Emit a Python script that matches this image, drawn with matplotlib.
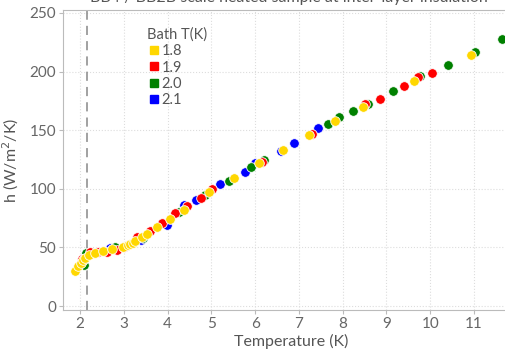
import matplotlib
matplotlib.use("Agg")
import matplotlib.pyplot as plt
from matplotlib.lines import Line2D

plt.rcParams['font.family'] = ['Lato', 'DejaVu Sans']

# bath temperature series (K)
bath_labels = ["1.8", "1.9", "2.0", "2.1"]
bath_colors = ["#FFD700", "#FF0000", "#008000", "#0000FF"]

t_18 = [1.88, 1.96, 2.02, 2.06, 2.11, 2.21, 2.34, 2.52, 2.74, 2.99, 3.09, 3.14, 3.20, 3.26,
        3.41, 3.52, 3.77, 4.05, 4.37, 4.95, 5.52, 6.09, 6.64, 7.24, 7.82, 8.47, 9.64, 10.92]
h_18 = [30.1, 34.1, 36.9, 39.2, 41.2, 43.5, 45.5, 47.2, 48.4, 50.3, 51.8, 52.9, 54.0, 55.4,
        58.6, 61.4, 67.6, 74.5, 81.9, 97.0, 109.5, 121.7, 133.0, 146.2, 158.1, 169.5, 192.2, 213.8]

t_19 = [2.05, 2.23, 2.40, 2.61, 2.84, 3.00, 3.31, 3.60, 3.88, 4.17, 4.45, 4.76, 5.02, 6.16,
        7.29, 8.52, 8.85, 9.41, 9.73, 10.04]
h_19 = [40.0, 46.0, 46.5, 46.3, 47.8, 50.0, 59.1, 64.2, 71.1, 79.1, 85.6, 92.0, 99.5, 122.8,
        147.0, 172.3, 176.6, 187.9, 195.1, 199.0]

t_20 = [2.10, 2.13, 2.80, 3.10, 3.45, 4.26, 4.85, 5.40, 5.91, 6.21, 7.66, 7.92, 8.23, 8.58,
        9.15, 9.76, 10.41, 11.03, 11.65]
h_20 = [35.0, 45.0, 50.6, 52.0, 58.0, 80.5, 94.8, 106.6, 118.3, 124.3, 155.0, 161.0, 166.1,
        172.3, 183.7, 196.2, 205.6, 216.7, 227.5]

t_21 = [2.68, 3.05, 3.39, 3.98, 4.37, 4.66, 5.20, 5.76, 6.00, 6.58, 6.89, 7.44]
h_21 = [49.2, 51.0, 56.3, 69.1, 86.4, 90.4, 104.1, 114.6, 122.3, 132.5, 139.3, 151.8]

lambda_point = 2.17

fig = plt.figure(figsize=(5.06, 3.5), dpi=100)
ax = fig.add_axes([63 / 506, 40 / 350, 457 / 506, 300 / 350])

series = [(t_21, h_21, bath_colors[3]), (t_20, h_20, bath_colors[2]),
          (t_19, h_19, bath_colors[1]), (t_18, h_18, bath_colors[0])]
for t, h, c in series:
    ax.scatter(t, h, s=48, color=c, edgecolors="white", linewidths=0.6, zorder=3)

ax.axvline(lambda_point, color="#888888", linestyle=(0, (6, 4)), linewidth=1.1, zorder=2)

ax.set_xlim(1.612, 12.05)
ax.set_ylim(-3.4, 252.5)
ax.set_xticks(range(2, 12))
ax.set_yticks([0, 50, 100, 150, 200, 250])
ax.grid(True, color="#dddddd", linestyle=":", linewidth=0.8)
ax.set_axisbelow(True)

for side in ["left", "bottom", "top"]:
    ax.spines[side].set_color("#bbbbbb")
ax.spines["right"].set_visible(False)
ax.tick_params(colors="#bbbbbb", labelcolor="#666666", labelsize=11, length=3, pad=2)

ax.set_xlabel("Temperature (K)", color="#555555", fontsize=11.5, labelpad=2)
ax.set_ylabel("h (W/m$^2$/K)", color="#555555", fontsize=11.5, labelpad=6)

handles = [Line2D([], [], marker="s", linestyle="", color=c, markersize=6) for c in bath_colors]
leg = ax.legend(handles, bath_labels, title="Bath T(K)", loc="upper left",
                bbox_to_anchor=(0.171, 0.96), frameon=False, fontsize=10.5,
                title_fontsize=10.5, handletextpad=0.0, labelspacing=0.15,
                handlelength=1.0, borderaxespad=0)
leg._legend_box.align = "left"
for txt in leg.get_texts():
    txt.set_color("#555555")
leg.get_title().set_color("#555555")

fig.text(0.57, 348 / 350, "BB4 / BB2B scale heated sample at inter-layer insulation",
         ha="center", va="baseline", color="#555555", fontsize=11.5)

fig.savefig("out.png", dpi=100)
